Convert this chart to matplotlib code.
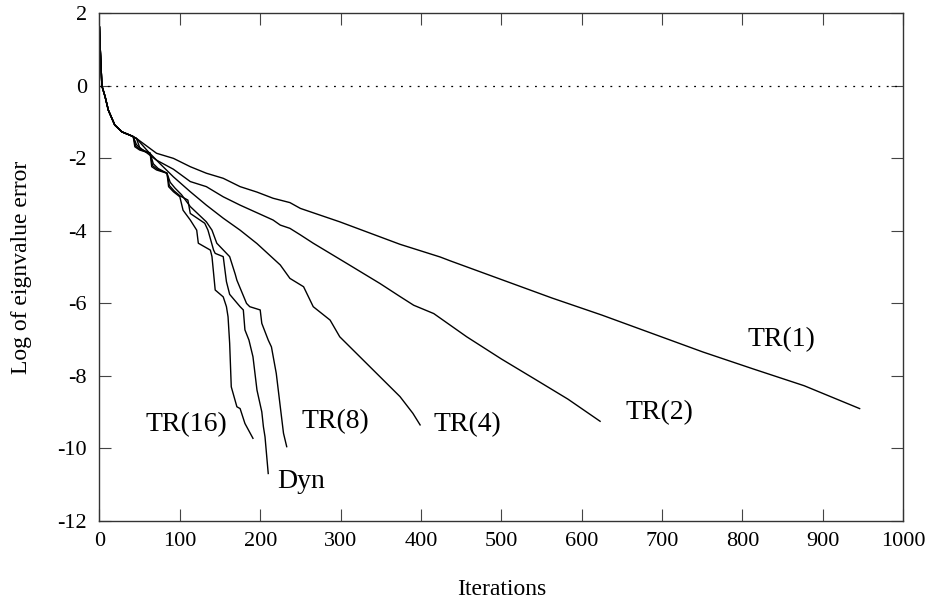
import matplotlib
matplotlib.use("Agg")
import matplotlib.pyplot as plt

plt.rcParams['font.family'] = ['Liberation Serif', 'DejaVu Serif']
plt.rcParams['axes.unicode_minus'] = False

# Common initial segment shared by all runs
start_x = [0, 1, 3, 7, 11, 19, 28, 40]
start_y = [1.62, 1.0, 0.0, -0.30, -0.67, -1.08, -1.27, -1.38]

tr1_x = [46, 71, 92, 113, 133, 154, 175, 196, 216, 237, 250, 299, 374, 424, 437, 500,
         563, 625, 688, 751, 814, 877, 946]
tr1_y = [-1.45, -1.86, -2.00, -2.23, -2.41, -2.55, -2.78, -2.93, -3.10, -3.22, -3.38,
         -3.75, -4.37, -4.72, -4.83, -5.34, -5.85, -6.32, -6.83, -7.34, -7.81, -8.27, -8.90]

tr2_x = [46, 50, 71, 92, 113, 133, 154, 175, 216, 225, 237, 250, 266, 299, 308, 349,
         374, 391, 416, 457, 500, 542, 583, 623]
tr2_y = [-1.45, -1.70, -2.05, -2.30, -2.64, -2.78, -3.06, -3.29, -3.70, -3.84, -3.93,
         -4.11, -4.34, -4.78, -4.90, -5.45, -5.81, -6.05, -6.28, -6.92, -7.53, -8.09,
         -8.64, -9.25]

tr4_x = [46, 60, 75, 92, 113, 133, 154, 175, 196, 225, 237, 254, 266, 287, 299, 324,
         349, 374, 390, 399]
tr4_y = [-1.45, -1.80, -2.14, -2.51, -2.92, -3.29, -3.65, -3.98, -4.35, -4.94, -5.31,
         -5.54, -6.09, -6.46, -6.92, -7.47, -8.02, -8.57, -9.03, -9.35]

tr8_x = [42, 46, 52, 63, 67, 73, 84, 88, 94, 102, 113, 133, 140, 146, 162, 169, 171,
         183, 187, 200, 202, 210, 214, 220, 225, 229, 233]
tr8_y = [-1.40, -1.62, -1.75, -1.86, -2.15, -2.28, -2.41, -2.66, -2.82, -3.00, -3.33,
         -3.75, -3.98, -4.34, -4.71, -5.20, -5.36, -6.00, -6.09, -6.18, -6.55, -7.01,
         -7.20, -7.93, -8.85, -9.58, -9.95]

dyn_x = [42, 45, 51, 63, 66, 72, 84, 87, 93, 100, 110, 113, 131, 135, 142, 144, 154,
         158, 162, 175, 179, 181, 186, 191, 196, 202, 204, 206, 210]
dyn_y = [-1.40, -1.66, -1.76, -1.86, -2.20, -2.30, -2.41, -2.75, -2.90, -3.03, -3.15,
         -3.52, -3.79, -3.98, -4.53, -4.62, -4.71, -5.40, -5.75, -6.09, -6.18, -6.73,
         -7.01, -7.47, -8.39, -8.99, -9.40, -9.68, -10.69]

tr16_x = [42, 44, 50, 63, 65, 71, 84, 86, 92, 100, 104, 113, 121, 123, 138, 140, 144,
          154, 158, 160, 162, 164, 171, 175, 181, 191]
tr16_y = [-1.40, -1.68, -1.77, -1.86, -2.23, -2.32, -2.41, -2.78, -2.92, -3.06, -3.43,
          -3.70, -3.98, -4.34, -4.53, -4.71, -5.63, -5.82, -6.09, -6.37, -7.10, -8.30,
          -8.85, -8.90, -9.31, -9.72]

series = [tr1_x, tr2_x, tr4_x, tr8_x, dyn_x, tr16_x]
series_y = [tr1_y, tr2_y, tr4_y, tr8_y, dyn_y, tr16_y]

label_text = ["TR(1)", "TR(2)", "TR(4)", "TR(8)", "Dyn", "TR(16)"]
label_x = [806, 655, 416, 252, 221, 57]
label_y = [-7.01, -9.01, -9.34, -9.26, -10.92, -9.35]

x_ticks = [0, 100, 200, 300, 400, 500, 600, 700, 800, 900, 1000]
y_ticks = [2, 0, -2, -4, -6, -8, -10, -12]

fig = plt.figure(figsize=(9.28, 5.99), dpi=100)
ax = fig.add_axes([0.1072, 0.1302, 0.8659, 0.8476])

ax.axhline(0, color='black', lw=0.9, dashes=(1.5, 5.2))

for xs, ys in zip(series, series_y):
    ax.plot(start_x + xs, start_y + ys, color='black', lw=1.0)

for t, lx, ly in zip(label_text, label_x, label_y):
    ax.text(lx, ly, t, fontsize=20, ha='left', va='center')

ax.set_xlim(0, 1000)
ax.set_ylim(-12, 2)
ax.set_xticks(x_ticks)
ax.set_yticks(y_ticks)
ax.tick_params(axis='both', which='major', direction='in', length=8.5, width=0.8,
               top=True, right=True, labelsize=16, color='#444444')
ax.tick_params(axis='y', pad=9)
ax.tick_params(axis='x', pad=8)
for s in ax.spines.values():
    s.set_linewidth(1.0)
    s.set_color('#333333')

ax.set_xlabel("Iterations", fontsize=17, labelpad=20)
ax.set_ylabel("Log of eignvalue error", fontsize=17, labelpad=18)

fig.savefig("out.png", dpi=100)
